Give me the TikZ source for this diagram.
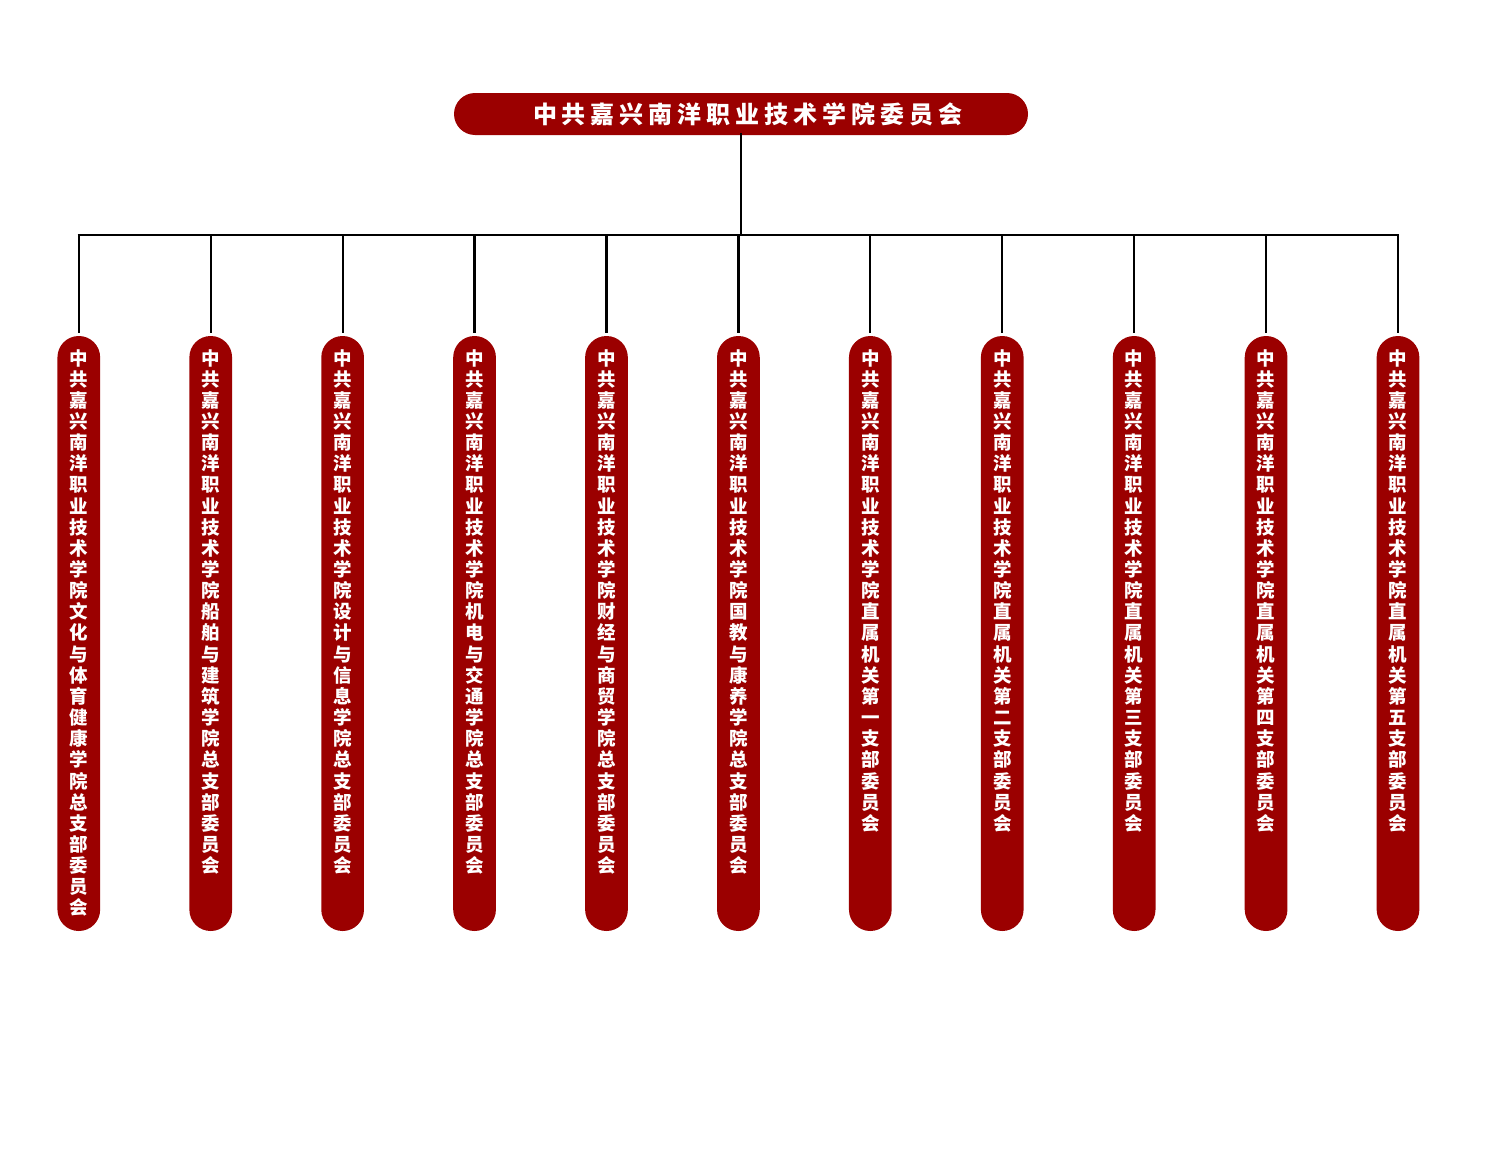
\documentclass[tikz,border=0pt]{standalone}
\usepackage{fontspec}
\newfontfamily\cjk{Noto Sans CJK SC}
\definecolor{dred}{RGB}{155,0,0}
\ExplSyntaxOn
\tl_new:N \l_my_chars_tl
\NewDocumentCommand\vtext{m}{\vtop{\baselineskip=21.15pt \lineskiplimit=-30pt \lineskip=0pt \tl_set:Nx \l_my_chars_tl {#1} \tl_map_inline:Nn \l_my_chars_tl {\hbox~to~20pt{\hss##1\hss}}}}
\NewDocumentCommand\htext{m}{\hbox{\tl_set:Nx \l_my_chars_tl {#1} \tl_map_inline:Nn \l_my_chars_tl {\hbox~to~29pt{\hss##1\hss}}}}
\ExplSyntaxOff
\tikzset{
  topbox/.style={fill=dred, draw=none, minimum width=574pt, minimum height=42pt, rounded corners=21pt, inner sep=0pt},
  colbox/.style={fill=dred, draw=none, minimum width=42.7pt, minimum height=595pt, rounded corners=21.3pt, inner sep=0pt},
  toptext/.style={text=white, font=\cjk\bfseries\fontsize{24}{26}\selectfont, inner sep=0pt},
  coltext/.style={text=white, font=\cjk\bfseries\fontsize{18.5}{21}\selectfont, inner sep=0pt, anchor=base},
  conn/.style={draw=black, line width=2.2pt}
}
\begin{document}
\begin{tikzpicture}[x=1pt,y=-1pt]
\useasboundingbox (0,0) rectangle (1500,1154);
\node[topbox] (top) at (741,114) {};
\node[toptext] (toptxt) at (748,114) {\htext{中共嘉兴南洋职业技术学院委员会}};
\coordinate (hl) at (78.8,235);
\coordinate (hr) at (1398,235);
\foreach \t [count=\i from 0] in {
  中共嘉兴南洋职业技术学院文化与体育健康学院总支部委员会,
  中共嘉兴南洋职业技术学院船舶与建筑学院总支部委员会,
  中共嘉兴南洋职业技术学院设计与信息学院总支部委员会,
  中共嘉兴南洋职业技术学院机电与交通学院总支部委员会,
  中共嘉兴南洋职业技术学院财经与商贸学院总支部委员会,
  中共嘉兴南洋职业技术学院国教与康养学院总支部委员会,
  中共嘉兴南洋职业技术学院直属机关第一支部委员会,
  中共嘉兴南洋职业技术学院直属机关第二支部委员会,
  中共嘉兴南洋职业技术学院直属机关第三支部委员会,
  中共嘉兴南洋职业技术学院直属机关第四支部委员会,
  中共嘉兴南洋职业技术学院直属机关第五支部委员会}{
  \pgfmathsetmacro\xx{78.8+131.92*\i}
  \node[colbox] (c\i) at (\xx,633.5) {};
  \node[coltext] (t\i) at (\xx,365) {\vtext{\t}};
  \draw[conn] (c\i.north |- hl) -- ([yshift=3pt]c\i.north);
}
\draw[conn] ([yshift=2pt]top.south) -- (top.south |- hl);
\draw[conn] ([xshift=-1.1pt]hl) -- ([xshift=1.1pt]hr);
\end{tikzpicture}
\end{document}
